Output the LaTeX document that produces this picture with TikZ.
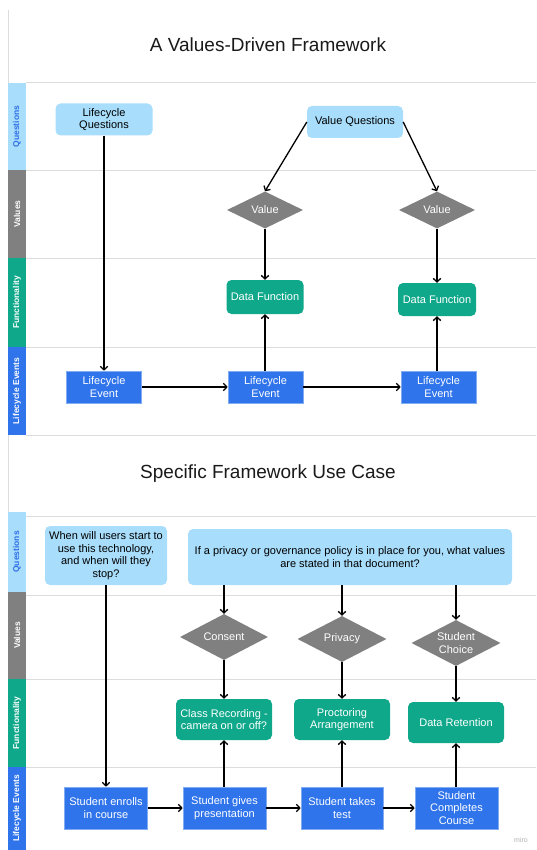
\documentclass[tikz,border=0pt]{standalone}
\usepackage{fontspec}
\setmainfont{Liberation Sans}
\usetikzlibrary{shapes.geometric,arrows.meta}
\definecolor{qblue}{HTML}{A8DDFB}
\definecolor{qtext}{HTML}{2F6FE8}
\definecolor{vgray}{HTML}{808080}
\definecolor{fteal}{HTML}{0FA88A}
\definecolor{lblue}{HTML}{2F74EA}
\definecolor{laneline}{HTML}{DCDCDC}
\definecolor{titlec}{HTML}{1A1A1A}
\tikzset{
  txt/.style={font=\fontsize{11}{12.5}\selectfont, align=center, inner sep=0pt},
  qbox/.style={txt, fill=qblue, rounded corners=5pt, text=black},
  vdia/.style={txt, diamond, aspect=2, fill=vgray, text=white},
  fbox/.style={txt, fill=fteal, rounded corners=5pt, text=white},
  ebox/.style={txt, fill=lblue, draw=lblue!60!white, line width=0.6pt, text=white},
  arr/.style={-{Straight Barb[length=3.5pt,width=7.5pt]}, line width=1.3pt, black},
  lanelabel/.style={rotate=90, font=\bfseries\fontsize{8.5}{9}\selectfont, inner sep=0pt},
  titletext/.style={font=\fontsize{19}{22}\selectfont, text=titlec, inner sep=0pt},
  laneln/.style={draw=laneline, line width=0.8pt}
}
\begin{document}
\begin{tikzpicture}[x=1pt,y=-1pt]
\useasboundingbox[fill=white] (0,0) rectangle (536,850);
% frame left border
\draw[laneline, line width=0.8pt] (8,10) -- (8,850);

% ===== Top frame =====
\node[titletext] (t1) at (268,45) {A Values-Driven Framework};
\foreach \yy in {82,170,258,347,435} {\draw[laneln] (26,\yy) -- (536,\yy);}
\fill[qblue] (8,83) rectangle (26,170);
\fill[vgray] (8,170) rectangle (26,258);
\fill[fteal] (8,258) rectangle (26,347);
\fill[lblue] (8,347) rectangle (26,435);
\node[lanelabel, text=qtext] (h1) at (17,126.5) {Questions};
\node[lanelabel, text=white] (h2) at (17,214) {Values};
\node[lanelabel, text=white] (h3) at (17,302.5) {Functionality};
\node[lanelabel, text=white] (h4) at (17,391) {Lifecycle Events};

\node[qbox, minimum width=97pt, minimum height=32pt] (lq) at (104,119.5) {Lifecycle\\Questions};
\node[qbox, minimum width=96pt, minimum height=32pt] (vq) at (355,122) {Value Questions};
\node[vdia, minimum width=76pt, minimum height=37pt] (v1) at (265,210) {Value};
\node[vdia, minimum width=76pt, minimum height=37pt] (v2) at (437,210) {Value};
\node[fbox, minimum width=77pt, minimum height=34pt] (df1) at (265,297) {Data Function};
\node[fbox, minimum width=78pt, minimum height=33pt] (df2) at (437,299.5) {Data Function};
\node[ebox, minimum width=75pt, minimum height=32pt] (le1) at (104,387) {Lifecycle\\Event};
\node[ebox, minimum width=75pt, minimum height=32pt] (le2) at (265.5,387) {Lifecycle\\Event};
\node[ebox, minimum width=75pt, minimum height=32pt] (le3) at (438.5,387) {Lifecycle\\Event};

\draw[arr] (lq.south) -- (le1.north);
\draw[arr] (vq.west) -- (v1.north);
\draw[arr] (vq.east) -- (v2.north);
\draw[arr] (v1.south) -- (df1.north);
\draw[arr] (v2.south) -- (df2.north);
\draw[arr] (le1.east) -- (le2.west);
\draw[arr] (le2.east) -- (le3.west);
\draw[arr] (df1.south |- le2.north) -- (df1.south);
\draw[arr] (df2.south |- le3.north) -- (df2.south);

% ===== Bottom frame =====
\node[titletext] (t2) at (268,474) {Specific Framework Use Case};
\foreach \yy in {516,595,679,767} {\draw[laneln] (26,\yy) -- (536,\yy);}
\fill[qblue] (8,512) rectangle (26,592);
\fill[vgray] (8,592) rectangle (26,679);
\fill[fteal] (8,679) rectangle (26,767);
\fill[lblue] (8,767) rectangle (26,850);
\node[lanelabel, text=qtext] (g1) at (17,552) {Questions};
\node[lanelabel, text=white] (g2) at (17,635.5) {Values};
\node[lanelabel, text=white] (g3) at (17,723) {Functionality};
\node[lanelabel, text=white] (g4) at (17,808.5) {Lifecycle Events};

\node[qbox, minimum width=122pt, minimum height=59pt] (wq) at (106,555.5) {When will users start to\\use this technology,\\and when will they\\stop?};
\node[qbox, minimum width=324pt, minimum height=56pt] (bq) at (350,557) {If a privacy or governance policy is in place for you, what values\\are stated in that document?};
\node[vdia, minimum width=88pt, minimum height=46pt] (c1) at (224,637) {Consent};
\node[vdia, minimum width=89pt, minimum height=46pt] (c2) at (342,639) {Privacy};
\node[vdia, minimum width=89pt, minimum height=46pt] (c3) at (456,643) {Student\\Choice};
\node[fbox, minimum width=96pt, minimum height=41pt] (f1) at (224,719.5) {Class Recording -\\camera on or off?};
\node[fbox, minimum width=96pt, minimum height=41pt] (f2) at (342,719.5) {Proctoring\\Arrangement};
\node[fbox, minimum width=96pt, minimum height=41pt] (f3) at (456,722.5) {Data Retention};
\node[ebox, minimum width=83pt, minimum height=42pt] (e1) at (106,808) {Student enrolls\\in course};
\node[ebox, minimum width=83pt, minimum height=42pt] (e2) at (224.5,808) {Student gives\\presentation};
\node[ebox, minimum width=82pt, minimum height=42pt] (e3) at (342,808) {Student takes\\test};
\node[ebox, minimum width=83pt, minimum height=42pt] (e4) at (456.5,808) {Student\\Completes\\Course};

\draw[arr] (wq.south) -- (e1.north);
\draw[arr] (c1.north |- bq.south) -- (c1.north);
\draw[arr] (c2.north |- bq.south) -- (c2.north);
\draw[arr] (c3.north |- bq.south) -- (c3.north);
\draw[arr] (c1.south) -- (f1.north);
\draw[arr] (c2.south) -- (f2.north);
\draw[arr] (c3.south) -- (f3.north);
\draw[arr] (e1.east) -- (e2.west);
\draw[arr] (e2.east) -- (e3.west);
\draw[arr] (e3.east) -- (e4.west);
\draw[arr] (f1.south |- e2.north) -- (f1.south);
\draw[arr] (e3.north) -- (f2.south);
\draw[arr] (f3.south |- e4.north) -- (f3.south);

\node[text=black!30, font=\fontsize{7}{8}\selectfont, inner sep=0pt] (miro) at (521,840) {miro};
\end{tikzpicture}
\end{document}
